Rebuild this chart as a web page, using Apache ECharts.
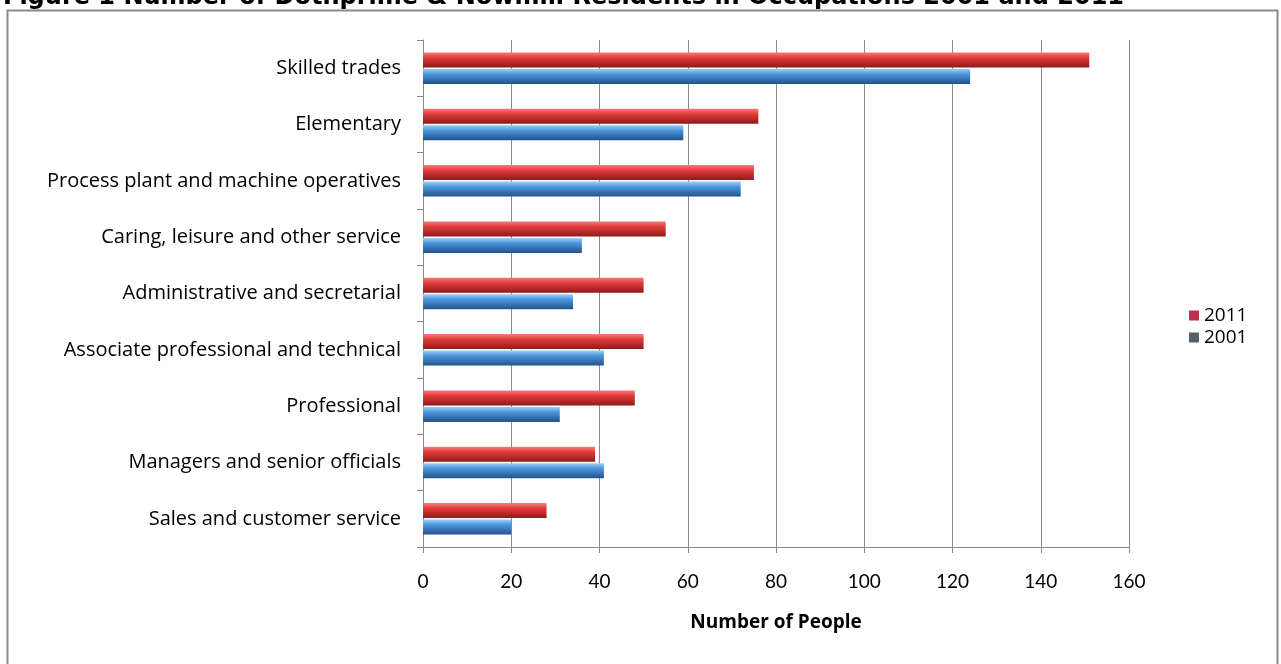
<!DOCTYPE html>
<html>
<head>
<meta charset="utf-8">
<script src="https://cdn.jsdelivr.net/npm/echarts@6/dist/echarts.min.js"></script>
<style>
html,body{margin:0;padding:0;background:#fff;}
#c{width:1281px;height:664px;}
</style>
</head>
<body>
<div id="c"></div>
<script>
var titleText = 'Figure 1 Number of Dothprime & Nowmill Residents in Occupations 2001 and 2011';
var categories = ['Skilled trades','Elementary','Process plant and machine operatives','Caring, leisure and other service','Administrative and secretarial','Associate professional and technical','Professional','Managers and senior officials','Sales and customer service'];
var values2011 = [151, 76, 75, 55, 50, 50, 48, 39, 28];
var values2001 = [124, 59, 72, 36, 34, 41, 31, 41, 20];
var seriesNames = ['2011','2001'];
var xTicks = [0,20,40,60,80,100,120,140,160];

var chart = echarts.init(document.getElementById('c'), null, {renderer:'canvas'});
var font = '"Open Sans", Lato, sans-serif';
function grad(c1,c2,c3){
  return new echarts.graphic.LinearGradient(0,0,0,1,[{offset:0,color:c1},{offset:0.35,color:c2},{offset:1,color:c3}]);
}
chart.setOption({
  backgroundColor:'#fff',
  animation:false,
  title:{text:titleText,left:-2,top:-19,textStyle:{fontFamily:'"DejaVu Sans", sans-serif',fontWeight:'bold',fontSize:24,color:'#000'}},
  graphic:[{type:'rect',shape:{x:7.5,y:10.5,width:1270,height:700},style:{fill:null,stroke:'#8a8a8a',lineWidth:2},silent:true}],
  legend:{orient:'vertical',left:1184,top:301,itemWidth:10,itemHeight:10,itemGap:3,icon:'rect',
    textStyle:{fontFamily:font,fontSize:19,color:'#000'},
    data:[{name:'2011',itemStyle:{color:'#b8324a'}},{name:'2001',itemStyle:{color:'#55606b'}}]},
  grid:{left:423,right:152,top:40,bottom:117},
  xAxis:{type:'value',min:0,max:160,interval:20,
    axisLine:{show:true,lineStyle:{color:'#888'}},
    axisTick:{show:true,length:6,lineStyle:{color:'#888'}},
    splitLine:{show:true,lineStyle:{color:'#8c8c8c',width:1}},
    axisLabel:{fontFamily:'Lato, sans-serif',fontSize:19,color:'#000',margin:25,formatter:function(v){return xTicks.indexOf(v)>=0?String(v):'';}},
    name:'Number of People',nameLocation:'middle',nameGap:66,
    nameTextStyle:{fontFamily:font,fontSize:19,fontWeight:'bold',color:'#000'}},
  yAxis:{type:'category',data:categories,inverse:true,
    axisLine:{show:true,lineStyle:{color:'#888'}},
    axisTick:{show:true,length:6,lineStyle:{color:'#888'}},
    axisLabel:{fontFamily:font,fontSize:20,color:'#000',margin:22}},
  series:[
    {name:seriesNames[0],type:'bar',data:values2011,barWidth:15,barGap:'10%',
      itemStyle:{color:grad('#f57a7a','#e33b3b','#8e1a1a')}},
    {name:seriesNames[1],type:'bar',data:values2001,barWidth:15,barGap:'10%',
      itemStyle:{color:grad('#9ad0f7','#4d95dc','#22528c')}}
  ]
});
</script>
</body>
</html>
